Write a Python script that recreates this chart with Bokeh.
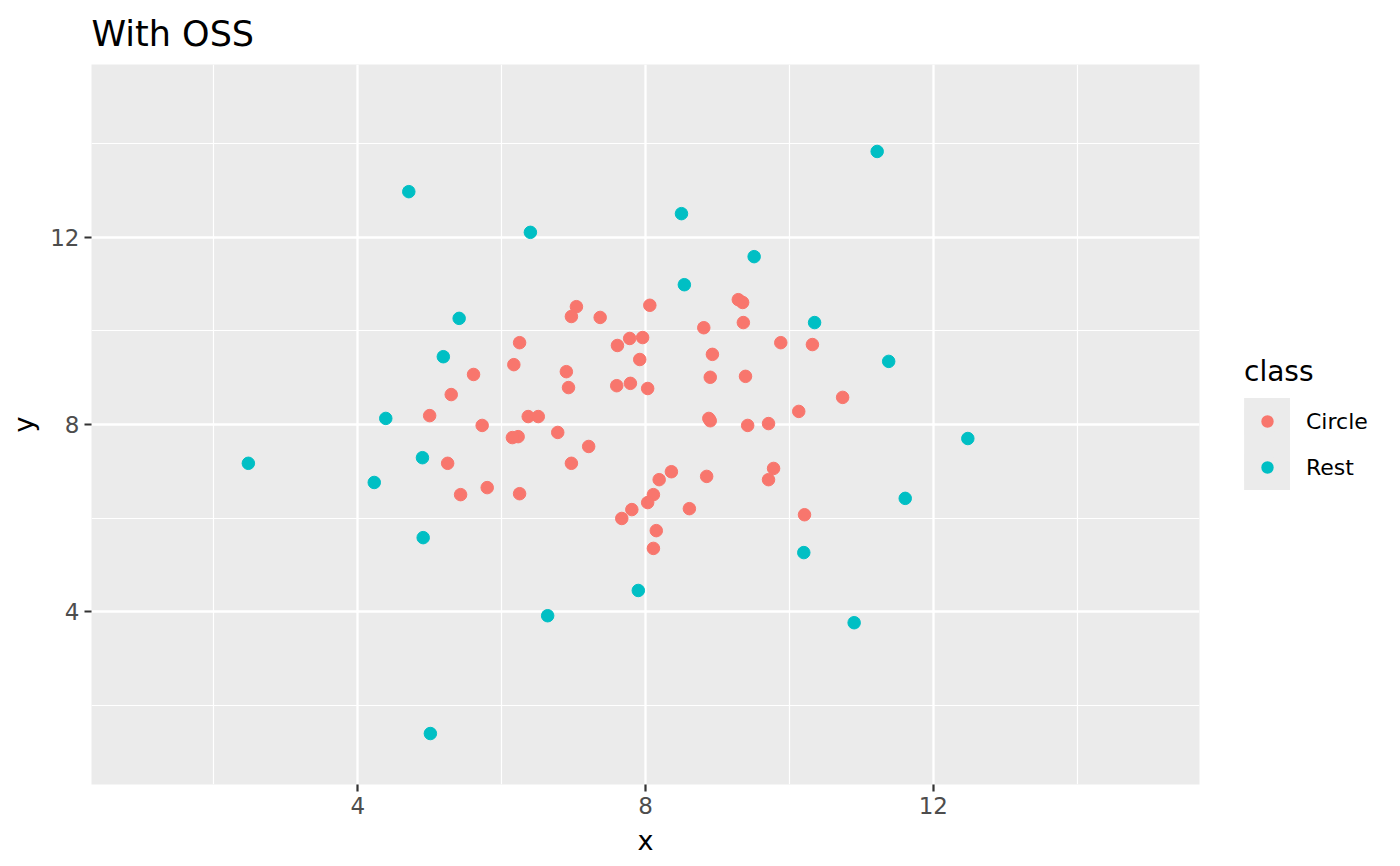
from bokeh.plotting import figure
from bokeh.models import Range1d, FixedTicker, Legend, LegendItem
from bokeh.embed import file_html
from bokeh.resources import INLINE

circle_x = [7.04, 8.06, 6.97, 7.37, 9.29, 9.35, 8.81, 9.36, 6.25, 7.78, 7.96, 7.61, 9.88, 10.32,
            8.93, 7.92, 6.17, 6.90, 5.61, 8.90, 9.39, 6.93, 7.60, 7.79, 8.03, 5.30, 10.74, 10.13,
            5.00, 6.37, 6.51, 8.88, 8.90, 9.71, 9.42, 5.73, 6.78, 6.23, 6.15, 7.21, 5.25, 6.97,
            9.78, 8.36, 9.71, 8.85, 8.19, 5.80, 5.43, 6.25, 8.11, 8.03, 7.81, 8.61, 7.67, 10.21,
            8.15, 8.11]
circle_y = [10.52, 10.55, 10.31, 10.29, 10.67, 10.61, 10.07, 10.18, 9.75, 9.84, 9.86, 9.69, 9.75, 9.71,
            9.50, 9.39, 9.28, 9.13, 9.07, 9.01, 9.03, 8.79, 8.83, 8.88, 8.77, 8.64, 8.58, 8.28,
            8.19, 8.17, 8.17, 8.13, 8.08, 8.02, 7.98, 7.98, 7.83, 7.74, 7.72, 7.53, 7.17, 7.17,
            7.06, 6.99, 6.82, 6.89, 6.82, 6.65, 6.50, 6.52, 6.50, 6.33, 6.18, 6.20, 5.99, 6.07,
            5.73, 5.35]

rest_x = [2.48, 4.71, 6.40, 8.50, 11.22, 9.51, 8.54, 5.41, 10.35, 5.19, 11.38, 4.39, 12.48,
          4.90, 4.23, 11.61, 4.91, 10.20, 7.90, 6.64, 10.90, 5.01]
rest_y = [7.17, 12.98, 12.11, 12.51, 13.84, 11.59, 10.99, 10.27, 10.18, 9.45, 9.35, 8.13, 7.70,
          7.29, 6.76, 6.42, 5.58, 5.26, 4.45, 3.91, 3.76, 1.39]

classes = ["Circle", "Rest"]
class_colors = ["#F8766D", "#00BFC4"]
ticks = [4, 8, 12]
minor = [2, 6, 10, 14]
lims = (0.3, 15.7)

FONT = "DejaVu Sans"
PANEL = "#EBEBEB"
nan = float("nan")

p = figure(frame_width=1108, frame_height=720, min_border_left=91, min_border_right=196,
           min_border_top=63, min_border_bottom=80,
           x_range=Range1d(*lims), y_range=Range1d(*lims),
           output_backend="svg", toolbar_location=None, title="With OSS")

p.background_fill_color = PANEL
p.border_fill_color = "white"
p.outline_line_color = None

p.title.text_font = FONT
p.title.text_font_size = "35px"
p.title.text_font_style = "normal"
p.title.text_color = "black"
p.title.standoff = 22

for ax, lab in ((p.xaxis, "x"), (p.yaxis, "y")):
    ax.ticker = FixedTicker(ticks=ticks, minor_ticks=minor)
    ax.axis_label = lab
    ax.axis_label_text_font = FONT
    ax.axis_label_text_font_size = "27px"
    ax.axis_label_text_font_style = "normal"
    ax.axis_label_text_color = "black"
    ax.axis_label_standoff = 8
    ax.major_label_text_font = FONT
    ax.major_label_text_font_size = "23px"
    ax.major_label_text_color = "#4D4D4D"
    ax.major_label_standoff = 5
    ax.axis_line_color = None
    ax.major_tick_line_color = "#333333"
    ax.major_tick_line_width = 2.2
    ax.major_tick_in = 0
    ax.major_tick_out = 7
    ax.minor_tick_line_color = None

for g in (p.xgrid, p.ygrid):
    g.ticker = FixedTicker(ticks=ticks, minor_ticks=minor)
    g.grid_line_color = "white"
    g.grid_line_width = 2.3
    g.minor_grid_line_color = "white"
    g.minor_grid_line_width = 1.2

r_circle = p.scatter(circle_x, circle_y, size=12.5, color=class_colors[0])
r_rest = p.scatter(rest_x, rest_y, size=12.5, color=class_colors[1])

# legend-only helpers (NaN data): grey key square and a grey ring that trims the key dot
key_bg = p.quad(left=[nan], right=[nan], top=[nan], bottom=[nan], fill_color=PANEL,
                line_color=PANEL, line_width=10, line_join="miter")
key_ring = p.scatter([nan], [nan], fill_color=None, line_color=PANEL, line_width=6)

legend = Legend(items=[LegendItem(label=classes[0], renderers=[key_bg, r_circle, key_ring]),
                       LegendItem(label=classes[1], renderers=[key_bg, r_rest, key_ring])],
                location=(45, 294), title="class",
                title_text_font=FONT, title_text_font_size="28px", title_text_font_style="normal",
                title_text_color="black", title_standoff=10,
                label_text_font=FONT, label_text_font_size="22px", label_text_color="black",
                label_standoff=16, glyph_width=46, glyph_height=46, spacing=0,
                padding=8, margin=0, border_line_color=None, background_fill_alpha=0)
p.add_layout(legend, "right")

open("out.html", "w").write(file_html(p, INLINE))
